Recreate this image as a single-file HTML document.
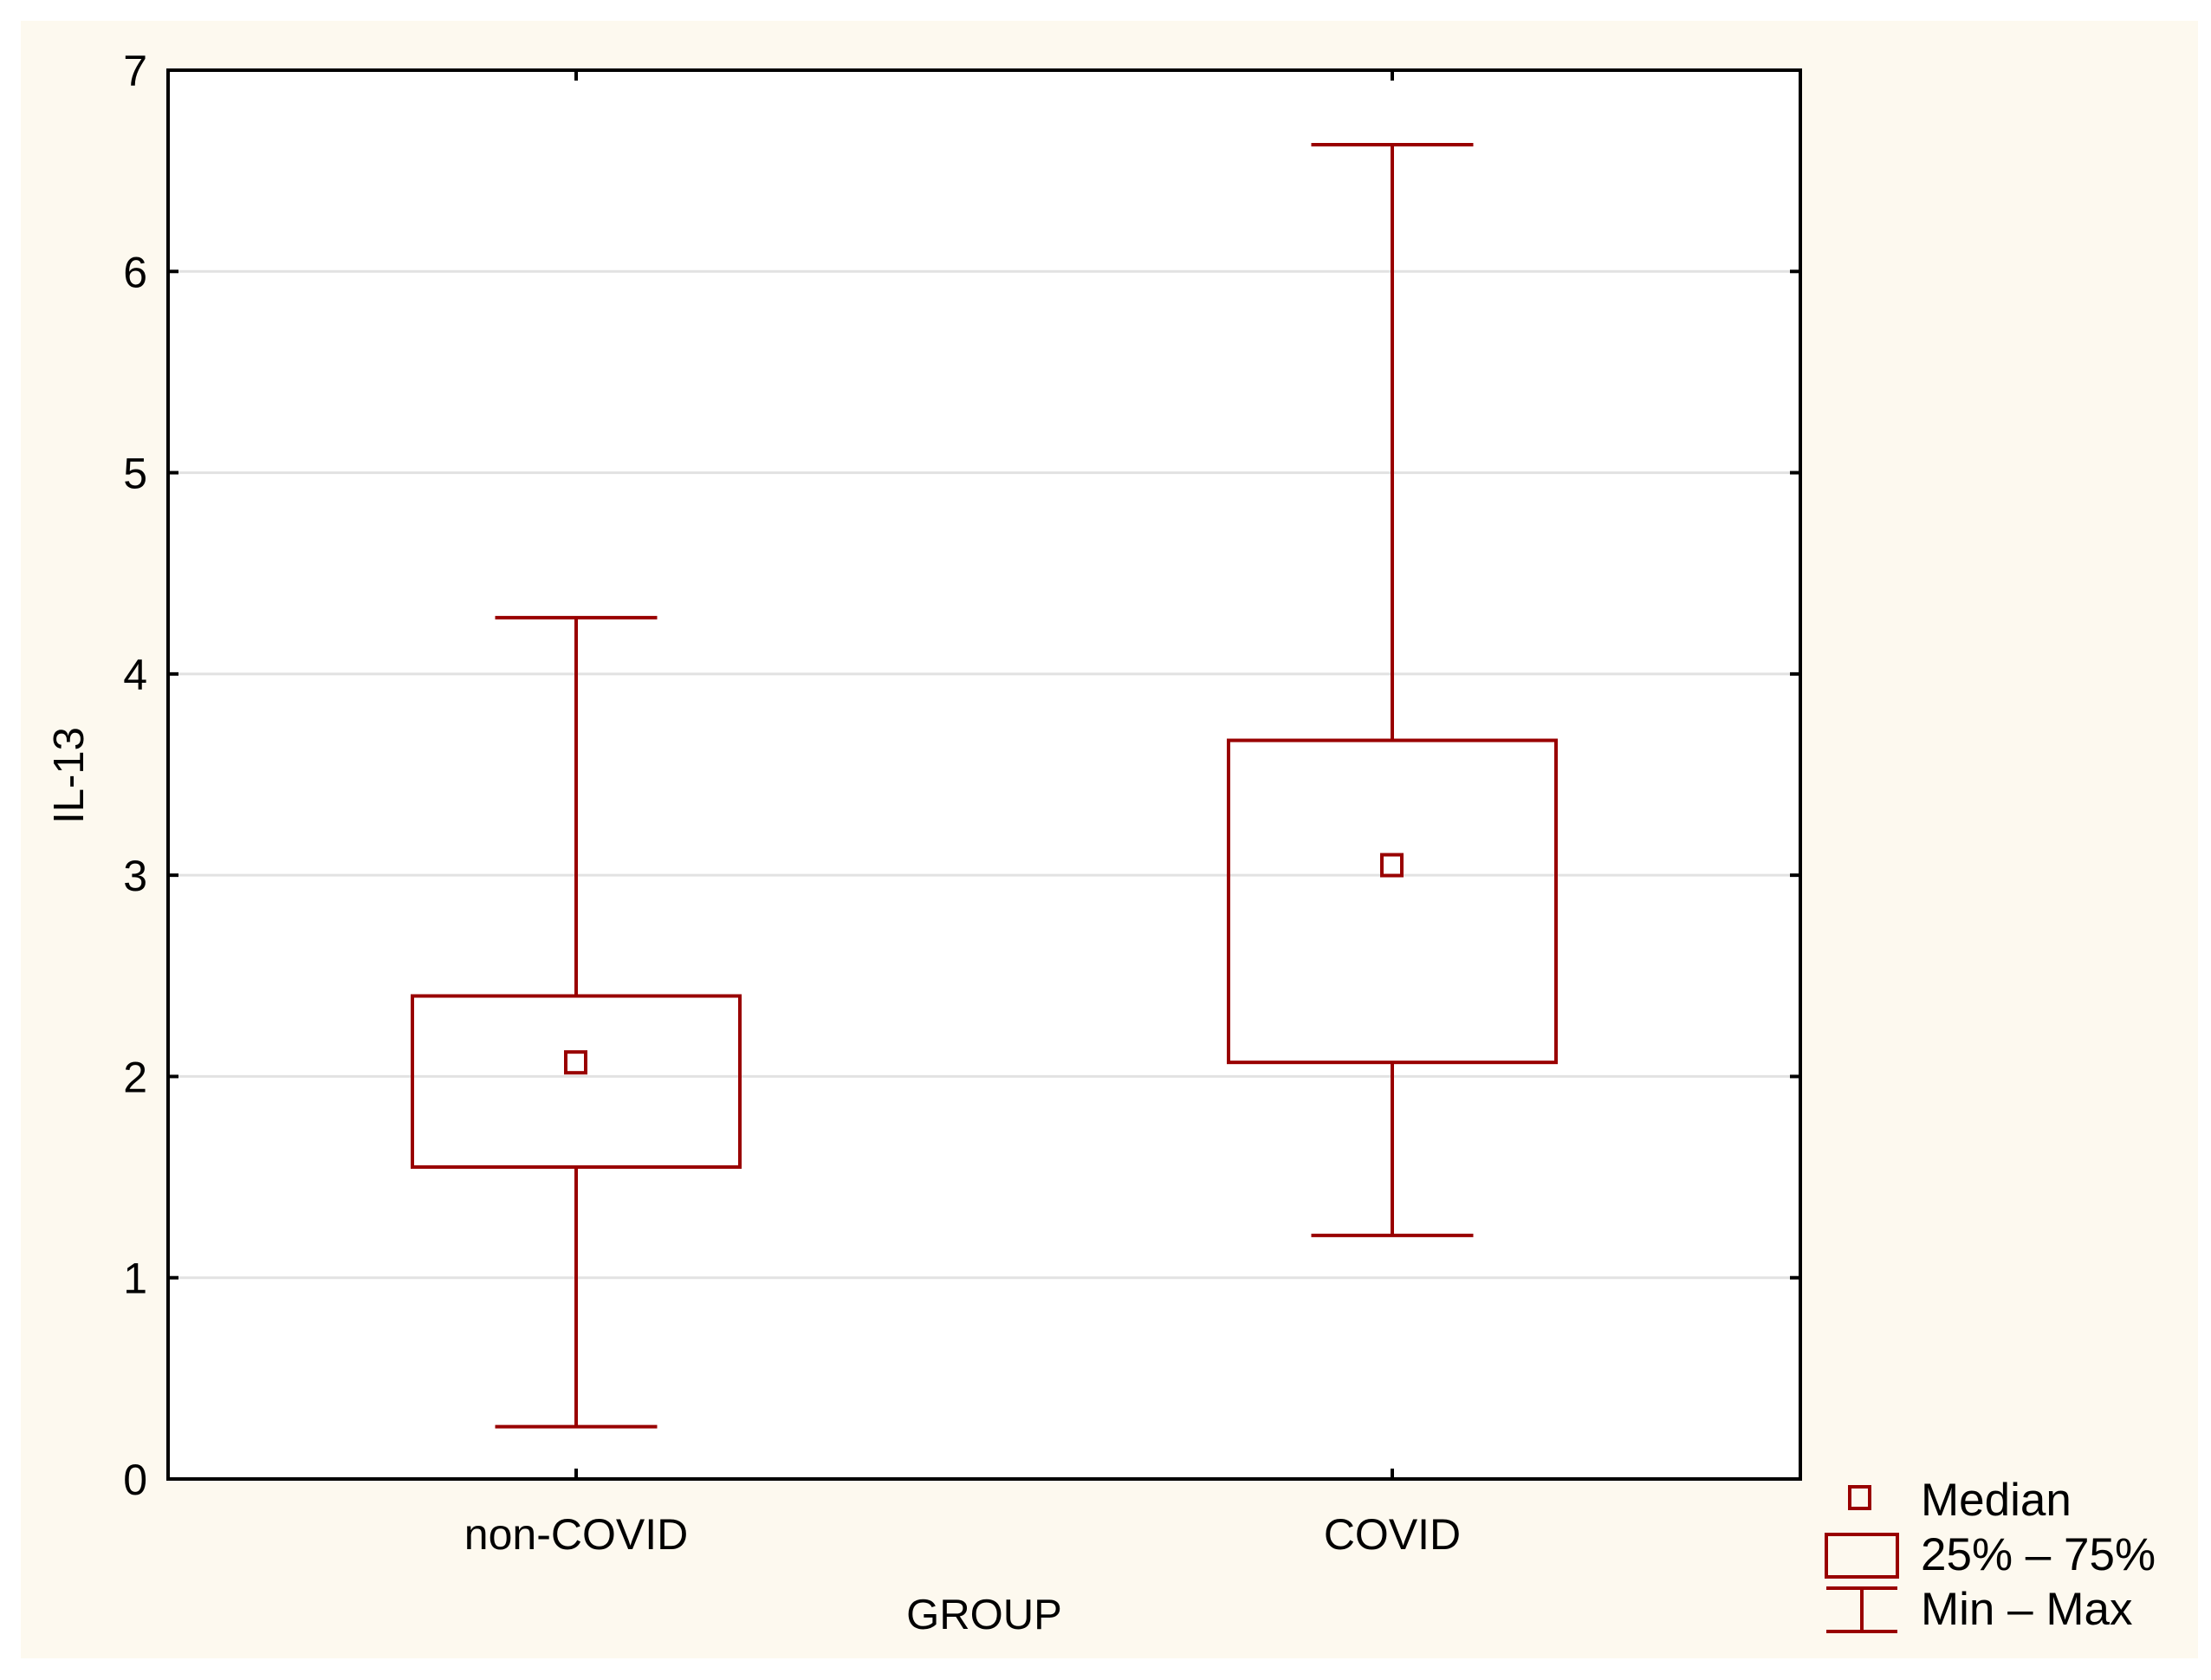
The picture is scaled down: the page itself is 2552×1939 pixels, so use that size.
<!DOCTYPE html>
<html><head><meta charset="utf-8"><style>
html,body{margin:0;padding:0;background:#fff;}
svg{display:block;font-family:"Liberation Sans",Arial,sans-serif;}
</style></head><body>
<svg id="chart" width="2552" height="1939" viewBox="0 0 2552 1939">
<rect x="24" y="24" width="2513" height="1890" fill="#fdf9ef"/>
<rect x="194" y="81" width="1884" height="1626" fill="#fff"/>
<g id="grid"></g>
<g id="boxes"></g>
<rect x="194" y="81" width="1884" height="1626" fill="none" stroke="#000" stroke-width="4"/>
<g id="axes"></g>
<text x="1136" y="1880" font-size="49" text-anchor="middle">GROUP</text>
<text transform="translate(96,895) rotate(-90)" font-size="49" text-anchor="middle">IL-13</text>
<g>
<rect x="2135" y="1716" width="23" height="25" fill="none" stroke="#990000" stroke-width="4"/>
<text x="2217" y="1749" font-size="53">Median</text>
<rect x="2108" y="1771" width="82" height="49" fill="none" stroke="#990000" stroke-width="4"/>
<text x="2217" y="1812" font-size="53">25% – 75%</text>
<path d="M2108 1833H2190M2108 1883H2190M2149 1833V1883" stroke="#990000" stroke-width="4" fill="none"/>
<text x="2217" y="1875" font-size="53">Min – Max</text>
</g>
</svg>
<script>
const categories = ["non-COVID", "COVID"];
const mins = [0.26, 1.21];
const q1s = [1.55, 2.07];
const medians = [2.07, 3.05];
const q3s = [2.40, 3.67];
const maxs = [4.28, 6.63];
const yTicks = [0, 1, 2, 3, 4, 5, 6, 7];

const NS = "http://www.w3.org/2000/svg";
const L = 194, R = 2078, T = 81, B = 1707, YMAX = 7;
function yPos(v){ return B - (v / YMAX) * (B - T); }
function xPos(i){ return L + (i + 0.5) / categories.length * (R - L); }
function mk(tag, attrs, parent){
  const e = document.createElementNS(NS, tag);
  for (const k in attrs) e.setAttribute(k, attrs[k]);
  parent.appendChild(e);
  return e;
}
const grid = document.getElementById('grid');
const axes = document.getElementById('axes');
const boxes = document.getElementById('boxes');

yTicks.forEach(function(v){
  const y = yPos(v);
  if (v > 0 && v < YMAX) {
    const g = mk('line', {x1: L, x2: R, y1: y, y2: y, stroke: '#e2e2e2', 'stroke-width': 3}, grid);
    
    
  }
  const t1 = mk('line', {x1: L, x2: L + 12, y1: y, y2: y, stroke: '#000', 'stroke-width': 4}, axes);
  
  
  const t2 = mk('line', {x1: R - 12, x2: R, y1: y, y2: y, stroke: '#000', 'stroke-width': 4}, axes);
  
  
  const lab = mk('text', {x: 170, y: y + 18, 'font-size': 50, 'text-anchor': 'end'}, axes);
  lab.textContent = v;
  
  
});

categories.forEach(function(c, i){
  const x = xPos(i);
  const bw = 378, cw = 187;
  const tb = mk('line', {x1: x, x2: x, y1: B - 12, y2: B, stroke: '#000', 'stroke-width': 4}, axes);
  
  
  const tt = mk('line', {x1: x, x2: x, y1: T, y2: T + 12, stroke: '#000', 'stroke-width': 4}, axes);
  
  
  const lab = mk('text', {x: x, y: 1788, 'font-size': 50, 'text-anchor': 'middle'}, axes);
  lab.textContent = c;
  
  

  const g = mk('g', {}, boxes);
  
  
  const st = {stroke: '#990000', 'stroke-width': 4, fill: 'none'};
  const w = mk('path', Object.assign({d: 'M' + x + ' ' + yPos(maxs[i]) + 'V' + yPos(q3s[i]) + 'M' + x + ' ' + yPos(q1s[i]) + 'V' + yPos(mins[i]) +
    'M' + (x - cw/2) + ' ' + yPos(maxs[i]) + 'H' + (x + cw/2) + 'M' + (x - cw/2) + ' ' + yPos(mins[i]) + 'H' + (x + cw/2)}, st), g);
  
  
  const b = mk('rect', Object.assign({x: x - bw/2, y: yPos(q3s[i]), width: bw, height: yPos(q1s[i]) - yPos(q3s[i])}, st), g);
  
  
  const m = mk('rect', Object.assign({x: x - 12, y: yPos(medians[i]) - 12, width: 23, height: 24}, st), g);
  
  
});
</script>
</body></html>
